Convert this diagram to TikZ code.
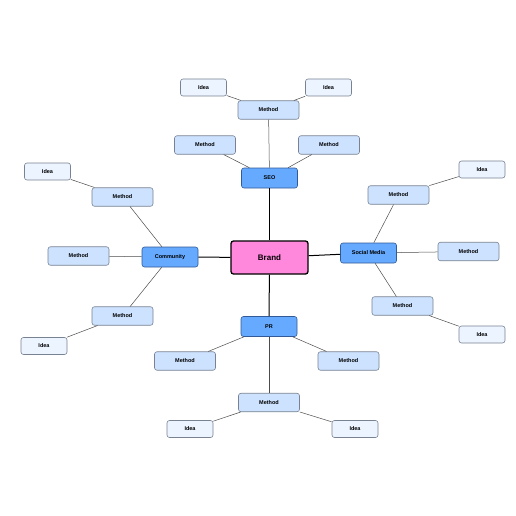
\documentclass[tikz,border=0pt]{standalone}
\usepackage{fontspec}
\setmainfont{Liberation Sans}
\usepackage{tikz}
\usetikzlibrary{positioning}
\definecolor{brandcolor}{RGB}{255,136,221}
\definecolor{topiccolor}{RGB}{102,170,255}
\definecolor{topicline}{RGB}{50,90,150}
\definecolor{methodcolor}{RGB}{204,226,255}
\definecolor{ideacolor}{RGB}{236,244,255}
\definecolor{boxline}{RGB}{120,130,145}
\tikzset{
  brandbox/.style={draw=black, line width=1.3pt, fill=brandcolor, rounded corners=2.5pt,
    minimum width=77pt, minimum height=33pt, inner sep=0pt,
    font=\fontsize{8}{9}\selectfont\bfseries},
  topicbox/.style={draw=topicline, line width=0.6pt, fill=topiccolor, rounded corners=2.5pt,
    minimum width=56pt, minimum height=20pt, inner sep=0pt,
    font=\fontsize{5.5}{6}\selectfont\bfseries},
  methodbox/.style={draw=boxline, line width=0.6pt, fill=methodcolor, rounded corners=2.5pt,
    minimum width=61pt, minimum height=18.5pt, inner sep=0pt,
    font=\fontsize{5.5}{6}\selectfont\bfseries},
  ideabox/.style={draw=boxline, line width=0.6pt, fill=ideacolor, rounded corners=2.5pt,
    minimum width=46pt, minimum height=17pt, inner sep=0pt,
    font=\fontsize{5.5}{6}\selectfont\bfseries},
  mainln/.style={line width=1pt, black},
  subln/.style={line width=0.5pt, black!70},
}

\begin{document}
\begin{tikzpicture}[x=1pt, y=-1pt]
  \useasboundingbox (0,0) rectangle (516,516);
  % centre
  \node[brandbox] (brand) at (269.5,257.5) {Brand};
  \node[topicbox] (seo) at (269.5,178) {SEO};
  \node[topicbox] (pr) at (269,326.5) {PR};
  \node[topicbox] (comm) at (170,257) {Community};
  \node[topicbox] (social) at (368.5,253) {Social Media};
  % SEO
  \node[methodbox] (seoM1) at (268.5,110) {Method};
  \node[methodbox] (seoM2) at (205,145) {Method};
  \node[methodbox] (seoM3) at (329,145) {Method};
  \node[ideabox] (seoI1) at (203.5,87.5) {Idea};
  \node[ideabox] (seoI2) at (328.5,87.5) {Idea};
  % Community
  \node[methodbox] (commM1) at (122.5,197) {Method};
  \node[methodbox] (commM2) at (78.5,256) {Method};
  \node[methodbox] (commM3) at (122.5,316) {Method};
  \node[ideabox] (commI1) at (47.5,171.5) {Idea};
  \node[ideabox] (commI2) at (44,346) {Idea};
  % Social Media
  \node[methodbox] (socM1) at (398.5,195) {Method};
  \node[methodbox] (socM2) at (468.5,251.5) {Method};
  \node[methodbox] (socM3) at (402.5,306) {Method};
  \node[ideabox] (socI1) at (482,169.5) {Idea};
  \node[ideabox] (socI2) at (482,334.5) {Idea};
  % PR
  \node[methodbox] (prM1) at (185,361) {Method};
  \node[methodbox] (prM2) at (348.5,361) {Method};
  \node[methodbox] (prM3) at (269,402.5) {Method};
  \node[ideabox] (prI1) at (190,429) {Idea};
  \node[ideabox] (prI2) at (355,429) {Idea};

  \draw[mainln] (brand) -- (seo);
  \draw[mainln] (brand) -- (pr);
  \draw[mainln] (brand) -- (comm);
  \draw[mainln] (brand) -- (social);
  \draw[subln] (seo) -- (seoM1);
  \draw[subln] (seo) -- (seoM2);
  \draw[subln] (seo) -- (seoM3);
  \draw[subln] (seoM1) -- (seoI1);
  \draw[subln] (seoM1) -- (seoI2);
  \draw[subln] (comm) -- (commM1);
  \draw[subln] (comm) -- (commM2);
  \draw[subln] (comm) -- (commM3);
  \draw[subln] (commM1) -- (commI1);
  \draw[subln] (commM3) -- (commI2);
  \draw[subln] (social) -- (socM1);
  \draw[subln] (social) -- (socM2);
  \draw[subln] (social) -- (socM3);
  \draw[subln] (socM1) -- (socI1);
  \draw[subln] (socM3) -- (socI2);
  \draw[subln] (pr) -- (prM1);
  \draw[subln] (pr) -- (prM2);
  \draw[subln] (pr) -- (prM3);
  \draw[subln] (prM3) -- (prI1);
  \draw[subln] (prM3) -- (prI2);
\end{tikzpicture}
\end{document}
